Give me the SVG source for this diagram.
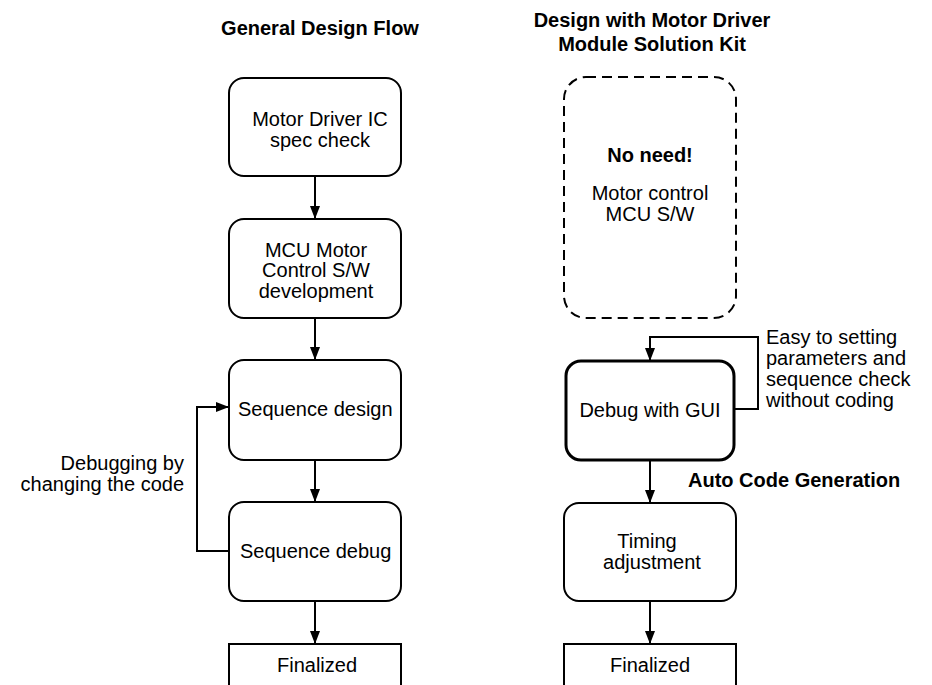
<svg xmlns="http://www.w3.org/2000/svg" width="932" height="685" viewBox="0 0 932 685">
<style>
.box{fill:#fff;stroke:#000;stroke-width:2}
.thick{stroke-width:3}
.dash{fill:none;stroke:#000;stroke-width:2;stroke-dasharray:10 6}
.t{font-family:"Liberation Sans",Arial,sans-serif;font-size:20px;fill:#000}
.b{font-weight:bold}
.c{text-anchor:middle}
.r{text-anchor:end}
.ln{fill:none;stroke:#000;stroke-width:2}
</style>
<defs>
<marker id="ah" markerWidth="13" markerHeight="10" refX="13" refY="5" orient="auto" markerUnits="userSpaceOnUse">
<path d="M0,0 L13,5 L0,10 Z" fill="#000"/>
</marker>
</defs>
<rect width="932" height="685" fill="#fff"/>
<g id="titles">
<text class="t b c" x="320" y="35">General Design Flow</text>
<text class="t b c" x="652" y="27">Design with Motor Driver</text>
<text class="t b c" x="652" y="51">Module Solution Kit</text>
</g>
<g id="connectors">
<line class="ln" x1="315" y1="176" x2="315" y2="219" marker-end="url(#ah)"/>
<line class="ln" x1="315" y1="318" x2="315" y2="360" marker-end="url(#ah)"/>
<line class="ln" x1="315" y1="460" x2="315" y2="502" marker-end="url(#ah)"/>
<line class="ln" x1="315" y1="601" x2="315" y2="644" marker-end="url(#ah)"/>
<polyline class="ln" points="229,551 197,551 197,407 229,407" marker-end="url(#ah)"/>
<polyline class="ln" points="734,409 758,409 758,337 650,337 650,361" marker-end="url(#ah)"/>
<line class="ln" x1="650" y1="460" x2="650" y2="503" marker-end="url(#ah)"/>
<line class="ln" x1="650" y1="601" x2="650" y2="644" marker-end="url(#ah)"/>
</g>
<g id="labels">
<text class="t r" x="184" y="470">Debugging by</text>
<text class="t r" x="184" y="491">changing the code</text>
<text class="t" x="766" y="344">Easy to setting</text>
<text class="t" x="766" y="365">parameters and</text>
<text class="t" x="766" y="386">sequence check</text>
<text class="t" x="766" y="407">without coding</text>
<text class="t b" x="688" y="487">Auto Code Generation</text>
</g>
<g id="n1">
<rect class="box" x="229" y="78" width="172" height="98" rx="15"/>
<text class="t c" x="320" y="126">Motor Driver IC</text>
<text class="t c" x="320" y="147">spec check</text>
</g>
<g id="n2">
<rect class="box" x="229" y="219" width="172" height="99" rx="15"/>
<text class="t c" x="316" y="257">MCU Motor</text>
<text class="t c" x="316" y="277">Control S/W</text>
<text class="t c" x="316" y="298">development</text>
</g>
<g id="n3">
<rect class="box" x="229" y="360" width="172" height="100" rx="15"/>
<text class="t" x="238" y="416">Sequence design</text>
</g>
<g id="n4">
<rect class="box" x="229" y="502" width="172" height="99" rx="15"/>
<text class="t" x="240" y="558">Sequence debug</text>
</g>
<g id="n5">
<rect class="box" x="229" y="644" width="172" height="60"/>
<text class="t c" x="317" y="672">Finalized</text>
</g>
<g id="r1">
<rect class="dash" x="564" y="77" width="172" height="241" rx="22"/>
<text class="t b c" x="650" y="162">No need!</text>
<text class="t c" x="650" y="200">Motor control</text>
<text class="t c" x="650" y="221">MCU S/W</text>
</g>
<g id="r2">
<rect class="box thick" x="566" y="361" width="168" height="99" rx="15"/>
<text class="t c" x="650" y="417">Debug with GUI</text>
</g>
<g id="r3">
<rect class="box" x="564" y="503" width="172" height="98" rx="15"/>
<text class="t c" x="647" y="548">Timing</text>
<text class="t c" x="652" y="569">adjustment</text>
</g>
<g id="r4">
<rect class="box" x="564" y="644" width="172" height="60"/>
<text class="t c" x="650" y="672">Finalized</text>
</g>
</svg>
